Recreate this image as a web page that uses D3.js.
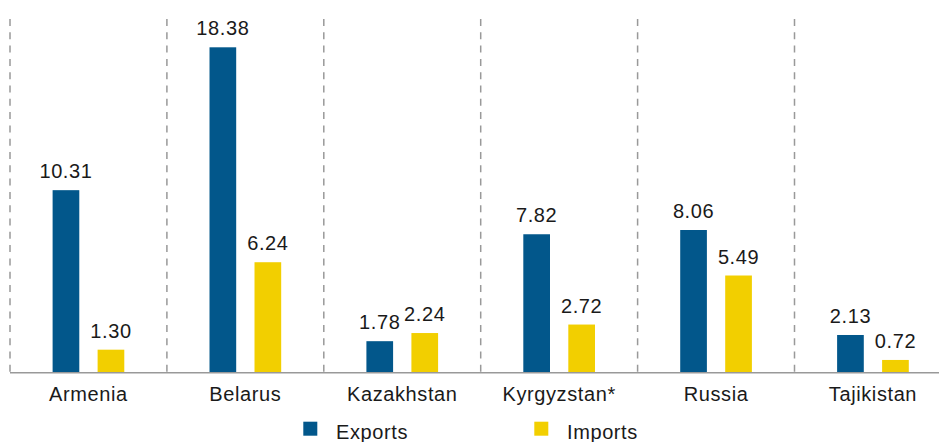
<!DOCTYPE html>
<html><head><meta charset="utf-8">
<script src="https://cdn.jsdelivr.net/npm/d3@7"></script>
<style>
html,body{margin:0;padding:0;background:#fff;}
svg{display:block;}
text{font-family:"Liberation Sans",Arial,Helvetica,sans-serif;fill:#1a1a1a;}
</style></head>
<body>
<svg id="chart" width="939" height="442"></svg>
<script>
const categories = ["Armenia","Belarus","Kazakhstan","Kyrgyzstan*","Russia","Tajikistan"];
const exportsVals = [10.31, 18.38, 1.78, 7.82, 8.06, 2.13];
const importsVals = [1.30, 6.24, 2.24, 2.72, 5.49, 0.72];
const seriesNames = ["Exports","Imports"];
const seriesColors = ["#02578b","#f2cf00"];

const svg = d3.select("#chart");
const baseY = 372.7, step = 156.9, x0 = 10;
const x = d3.scaleBand().domain(categories).range([x0, x0 + step*categories.length]).paddingInner(0).paddingOuter(0);
const y = d3.scaleLinear().domain([0, 18.38]).range([baseY, 47.3]);
const c = x.bandwidth()/2;
const xs = d3.scaleBand().domain(seriesNames).range([c - 45, c + 45]).paddingInner(0.407).paddingOuter(0.2035);

// dashed separators
const seps = categories.map(d=>x(d));
svg.append("g").selectAll("line").data(seps).join("line")
  .attr("x1",d=>d).attr("x2",d=>d).attr("y1",19).attr("y2",baseY)
  .attr("stroke","#999").attr("stroke-width",1.5).attr("stroke-dasharray","7,6.3");

const data = categories.map((cat,i)=>({cat, vals:[
  {s:"Exports", v:exportsVals[i], color:seriesColors[0]},
  {s:"Imports", v:importsVals[i], color:seriesColors[1]}]}));

const g = svg.append("g").selectAll("g").data(data).join("g")
  .attr("transform",d=>`translate(${x(d.cat)},0)`);
g.selectAll("rect").data(d=>d.vals).join("rect")
  .attr("x",d=>xs(d.s)).attr("width",xs.bandwidth())
  .attr("y",d=>y(d.v)).attr("height",d=>baseY - y(d.v))
  .attr("fill",d=>d.color);
g.selectAll("text.val").data(d=>d.vals).join("text").attr("class","val")
  .attr("x",d=>xs(d.s)+xs.bandwidth()/2).attr("y",d=>y(d.v)-12)
  .attr("text-anchor","middle").attr("font-size",20).style("letter-spacing","0.6px")
  .text(d=>d.v.toFixed(2));

// baseline axis
svg.append("line").attr("x1",x0).attr("x2",939).attr("y1",baseY).attr("y2",baseY)
  .attr("stroke","#999").attr("stroke-width",1.5);

// category labels via axis
const axis = d3.axisBottom(x).tickSize(0).tickPadding(0);
const ag = svg.append("g").attr("transform",`translate(0,${baseY})`).call(axis);
ag.select(".domain").remove();
ag.selectAll("text").attr("y",28.5).attr("dy",null).attr("font-size",20)
  .style("letter-spacing","0.6px").attr("fill","#1a1a1a")
  .style("font-family","'Liberation Sans',Arial,sans-serif");

// legend
const legX = [303.3, 534.3];
const lg = svg.append("g").selectAll("g").data(seriesNames).join("g")
  .attr("transform",(d,i)=>`translate(${legX[i]},421.7)`);
lg.append("rect").attr("width",14).attr("height",14).attr("fill",(d,i)=>seriesColors[i]);
lg.append("text").attr("x",32.7).attr("y",17.5).attr("font-size",20)
  .style("letter-spacing","0.6px").text(d=>d);
</script>
</body></html>
